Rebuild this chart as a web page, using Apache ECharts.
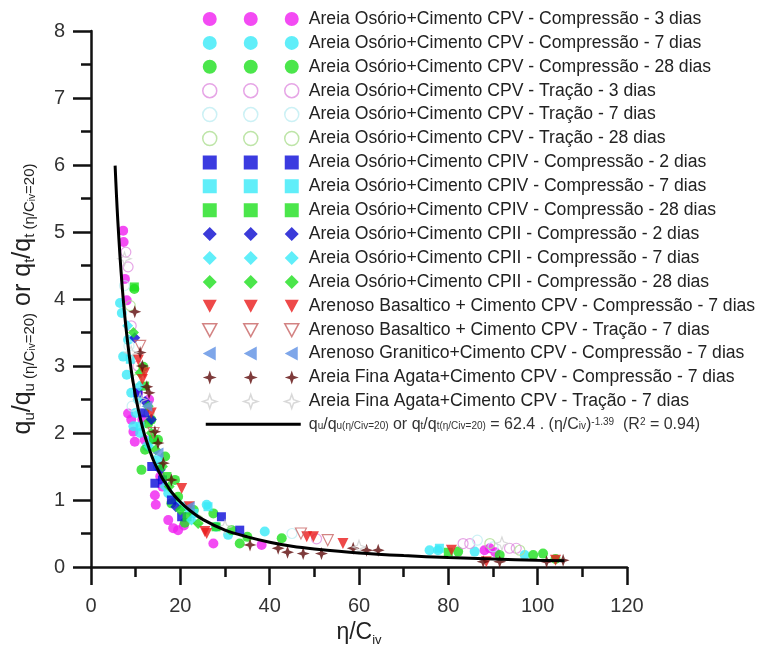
<!DOCTYPE html>
<html>
<head>
<meta charset="utf-8">
<script src="https://cdn.jsdelivr.net/npm/echarts@6/dist/echarts.min.js"></script>
<style>
  html, body { margin: 0; padding: 0; background: #fff; }
  #chart { width: 761px; height: 653px; }
</style>
</head>
<body>
<div id="chart"></div>
<script>
const FONT = 'Arial, "Liberation Sans", sans-serif';

// legend labels
const names = [
  'Areia Osório+Cimento CPV - Compressão - 3 dias',
  'Areia Osório+Cimento CPV - Compressão - 7 dias',
  'Areia Osório+Cimento CPV - Compressão - 28 dias',
  'Areia Osório+Cimento CPV - Tração - 3 dias',
  'Areia Osório+Cimento CPV - Tração - 7 dias',
  'Areia Osório+Cimento CPV - Tração - 28 dias',
  'Areia Osório+Cimento CPIV - Compressão - 2 dias',
  'Areia Osório+Cimento CPIV - Compressão - 7 dias',
  'Areia Osório+Cimento CPIV - Compressão - 28 dias',
  'Areia Osório+Cimento CPII - Compressão - 2 dias',
  'Areia Osório+Cimento CPII - Compressão - 7 dias',
  'Areia Osório+Cimento CPII - Compressão - 28 dias',
  'Arenoso Basaltico + Cimento CPV - Compressão - 7 dias',
  'Arenoso Basaltico + Cimento CPV - Tração - 7 dias',
  'Arenoso Granitico+Cimento CPV - Compressão - 7 dias',
  'Areia Fina Agata+Cimento CPV - Compressão - 7 dias',
  'Areia Fina Agata+Cimento CPV - Tração - 7 dias'
];
const fitName = 'ajuste';

// [η/Civ, normalised strength]
const cpvC3 = [[7.2,5.02],[7.3,4.85],[7.6,4.3],[8.0,3.98],[8.3,2.29],[9.0,2.2],[9.5,2.02],[9.8,1.87],[10.5,2.6],[11.5,2.2],[12.0,1.9],[13.0,2.5],[14.3,1.07],[14.5,0.93],[15.5,1.35],[16.0,1.2],[17.3,0.70],[18.4,0.58],[19.5,0.55],[20.8,0.62],[27.4,0.35],[38.2,0.33],[88.1,0.25],[89.3,0.28],[90.5,0.22]];
const cpvC7 = [[6.5,3.94],[6.9,3.79],[7.2,3.14],[8.0,2.87],[8.3,3.39],[9.0,2.6],[10.0,2.3],[9.5,2.1],[10.5,2.5],[11.0,2.0],[12.5,1.8],[13.5,1.9],[15.0,1.5],[17.3,1.10],[19.0,1.0],[20.5,0.9],[22.0,0.85],[25.9,0.93],[28.0,0.6],[30.7,0.48],[38.9,0.53],[75.8,0.25],[77.7,0.25],[85.9,0.23],[97.1,0.18]];
const cpvC28 = [[9.7,4.15],[11.7,2.99],[12.8,2.14],[12.1,1.75],[11.3,1.45],[13.5,2.2],[15.0,1.9],[16.6,1.65],[18.8,1.30],[18.0,0.95],[19.5,1.05],[21.0,0.66],[23.0,0.85],[27.4,0.80],[31.5,0.55],[33.3,0.35],[35.0,0.45],[42.7,0.43],[82.2,0.23],[91.5,0.18],[99.0,0.18],[101.2,0.20],[104.0,0.12]];
const cpvT3 = [[7.8,4.7],[8.3,4.48],[9.0,3.6],[10.5,3.0],[12.0,2.6],[50.5,0.42],[83.3,0.35],[84.8,0.35],[93.7,0.28],[95.2,0.28]];
const cpvT7 = [[7.5,4.2],[8.5,3.3],[9.2,2.4],[45.0,0.5],[86.5,0.4],[90.0,0.3]];
const cpvT28 = [[8.8,3.9],[10.2,2.8],[13.0,2.3],[24.0,0.7],[89.3,0.35],[96.0,0.25]];
const cpivC2 = [[10.5,2.6],[12.0,2.3],[13.6,1.50],[14.3,1.25],[16.0,1.3],[18.0,1.0],[20.3,0.75],[29.2,0.75],[33.3,0.55]];
const cpivC7 = [[8.8,3.1],[11.0,2.1],[15.0,1.6],[23.0,0.8],[26.2,0.90],[78.0,0.28]];
const cpivC28 = [[9.7,4.18],[12.0,2.7],[14.0,1.9],[17.0,1.35],[21.5,0.75],[28.0,0.6],[80.0,0.22]];
const cpiiC2 = [[9.8,3.42],[12.1,2.47],[13.5,2.2],[15.5,1.45],[19.0,0.9]];
const cpiiC7 = [[8.2,3.6],[10.8,2.7],[13.0,1.8],[16.5,1.2],[22.5,0.7]];
const cpiiC28 = [[9.5,3.5],[11.0,2.9],[12.8,2.4],[13.5,2.0],[14.5,1.75],[16.0,1.5],[17.5,1.2],[20.0,0.85],[24.0,0.65]];
const basC7 = [[10.6,3.09],[11.5,2.8],[12.0,2.9],[13.5,2.3],[20.3,1.17],[22.0,0.9],[25.5,0.53],[25.9,0.50],[48.3,0.45],[49.8,0.45],[56.4,0.35],[80.7,0.25],[88.5,0.08],[104.0,0.1]];
const basT7 = [[11.0,3.3],[14.0,2.0],[47.0,0.5],[53.0,0.4]];
const graC7 = [[12.5,2.4],[15.0,1.7],[22.0,0.9]];
const agaC7 = [[9.8,3.81],[11.0,3.2],[11.5,3.0],[12.5,2.69],[13.0,2.6],[14.3,2.02],[15.0,1.85],[16.2,1.55],[18.0,1.3],[35.6,0.33],[41.9,0.28],[44.0,0.22],[47.5,0.20],[51.6,0.20],[58.7,0.28],[61.7,0.25],[64.3,0.25],[87.8,0.08],[91.5,0.08],[102.0,0.08],[105.7,0.10]];
const agaT7 = [[7.5,4.6],[9.0,3.2],[11.0,2.5],[30.0,0.6],[60.0,0.3],[92.0,0.35]];

// fitted curve
const fitX = [5.4, 5.7, 6, 6.5, 7, 7.5, 8, 8.5, 9, 9.5, 10, 11, 12, 13, 14, 15, 16, 17, 18, 20, 22, 25, 30, 35, 40, 45, 50, 60, 70, 80, 90, 100, 106];
const fitY = [5.99, 5.55, 5.17, 4.63, 4.17, 3.79, 3.47, 3.19, 2.94, 2.73, 2.54, 2.23, 1.97, 1.77, 1.59, 1.45, 1.32, 1.22, 1.12, 0.97, 0.85, 0.71, 0.55, 0.45, 0.37, 0.31, 0.27, 0.21, 0.17, 0.14, 0.12, 0.10, 0.095];

const shapes = {
  circle: dx => `M${dx},7A7,7 0 1,1 ${dx + 14},7A7,7 0 1,1 ${dx},7Z`,
  square: dx => `M${dx},0H${dx + 14}V14H${dx}Z`,
  diamond: dx => `M${dx + 7},0L${dx + 14},7L${dx + 7},14L${dx},7Z`,
  triDown: dx => `M${dx},1H${dx + 14}L${dx + 7},14Z`,
  triLeft: dx => `M${dx},7L${dx + 13},0V14Z`,
  star: dx => `M${dx + 7},0L${dx + 8.8},5.2L${dx + 14},7L${dx + 8.8},8.8L${dx + 7},14L${dx + 5.2},8.8L${dx},7L${dx + 5.2},5.2Z`
};
const plotSymbol = {
  circle: 'circle', square: 'rect', diamond: 'diamond',
  triDown: 'path://' + shapes.triDown(0), triLeft: 'path://' + shapes.triLeft(0), star: 'path://' + shapes.star(0)
};
const plotSize = { circle: 10, square: 9, diamond: 11, triDown: 11, triLeft: 11, star: 13 };
// three samples per legend row; the trailing moves only widen the icon box
const legendIcon = shape => 'path://' + [0, 41, 82].map(shapes[shape]).join('') + 'M0,0M101,0';

// name, data, shape, colour, hollow
const defs = [
  [names[0], cpvC3, 'circle', '#f01ef0', false],
  [names[1], cpvC7, 'circle', '#38eaf8', false],
  [names[2], cpvC28, 'circle', '#1ee01e', false],
  [names[3], cpvT3, 'circle', '#e08ee0', true],
  [names[4], cpvT7, 'circle', '#bfeef2', true],
  [names[5], cpvT28, 'circle', '#aede92', true],
  [names[6], cpivC2, 'square', '#0a0ad8', false],
  [names[7], cpivC7, 'square', '#38eaf8', false],
  [names[8], cpivC28, 'square', '#1ee01e', false],
  [names[9], cpiiC2, 'diamond', '#0a0ad0', false],
  [names[10], cpiiC7, 'diamond', '#38eaf8', false],
  [names[11], cpiiC28, 'diamond', '#1ee01e', false],
  [names[12], basC7, 'triDown', '#ea1c1c', false],
  [names[13], basT7, 'triDown', '#c86464', true],
  [names[14], graC7, 'triLeft', '#5e90e4', false],
  [names[15], agaC7, 'star', '#5e0a0a', false],
  [names[16], agaT7, 'star', '#cfcfcf', true]
];

const series = defs.map(([name, data, shape, color, hollow]) => ({
  type: 'scatter',
  name,
  data,
  symbol: plotSymbol[shape],
  symbolSize: plotSize[shape],
  itemStyle: hollow
    ? { color: 'rgba(255,255,255,0)', borderColor: color, borderWidth: 1.2 }
    : { color },
  silent: true,
  z: 2
}));
series.push({
  type: 'line',
  name: fitName,
  data: fitX.map((x, i) => [x, fitY[i]]),
  smooth: 0.3,
  showSymbol: false,
  lineStyle: { color: '#000', width: 3 },
  itemStyle: { color: '#000' },
  silent: true,
  z: 5
});

const legendData = defs.map(([name, , shape, color, hollow]) => ({
  name,
  icon: legendIcon(shape),
  itemStyle: hollow
    ? { color: '#fff', borderColor: color, borderWidth: 1.5 }
    : { color, borderWidth: 0 }
}));
legendData.push({ name: fitName, icon: 'path://M3,0H98V3H3ZM0,1M101,1', itemStyle: { color: '#000', borderWidth: 0 } });

const fitLabel = '{f|q}{fs|u}{f|/q}{fs|u(η/Civ=20)}{f| or q}{fs|t}{f|/q}{fs|t(η/Civ=20)}{f| = 62.4 . (η/C}{fs|iv}{f|)}{fp|-1.39}{f|  (R}{fp|2}{f| = 0.94)}';

const chart = echarts.init(document.getElementById('chart'));
chart.setOption({
  animation: false,
  backgroundColor: '#fff',
  grid: { left: 91, right: 134, top: 31, bottom: 86 },
  legend: {
    orient: 'vertical',
    left: 202,
    top: 10,
    padding: 0,
    itemWidth: 101,
    itemHeight: 14,
    itemGap: 5.9,
    selectedMode: false,
    textStyle: {
      fontFamily: FONT, fontSize: 17.6, color: '#222',
      rich: {
        f: { fontFamily: FONT, fontSize: 16, color: '#333', lineHeight: 14 },
        fs: { fontFamily: FONT, fontSize: 10, color: '#333', lineHeight: 4, verticalAlign: 'bottom' },
        fp: { fontFamily: FONT, fontSize: 10, color: '#333', lineHeight: 4, verticalAlign: 'top' }
      }
    },
    formatter: n => (n === fitName ? fitLabel : n),
    data: legendData
  },
  xAxis: {
    type: 'value',
    min: 0, max: 120, interval: 20,
    name: '{m|η/C}{s|iv}',
    nameLocation: 'middle',
    nameGap: 52,
    nameTextStyle: {
      rich: {
        m: { fontFamily: FONT, fontSize: 23, color: '#222', lineHeight: 28 },
        s: { fontFamily: FONT, fontSize: 13, color: '#222', lineHeight: 14, verticalAlign: 'bottom' }
      }
    },
    axisLine: { show: true, lineStyle: { color: '#111', width: 2.5 } },
    axisTick: { show: true, inside: false, length: 18, lineStyle: { width: 2.5, color: '#111' } },
    minorTick: { show: true, splitNumber: 2, length: 10, lineStyle: { width: 2.5, color: '#111' } },
    splitLine: { show: false },
    axisLabel: { fontFamily: FONT, fontSize: 20, color: '#333', margin: 29 }
  },
  yAxis: {
    type: 'value',
    min: 0, max: 8, interval: 1,
    name: '{m|q}{s|u}{m|/q}{s|u (η/C}{t|iv}{s|=20)}{m| or q}{s|t}{m|/q}{s|t (η/C}{t|iv}{s|=20)}',
    nameLocation: 'middle',
    nameGap: 54,
    nameTextStyle: {
      rich: {
        m: { fontFamily: FONT, fontSize: 25, color: '#222', lineHeight: 28 },
        s: { fontFamily: FONT, fontSize: 15, color: '#222', lineHeight: 14, verticalAlign: 'bottom' },
        t: { fontFamily: FONT, fontSize: 10, color: '#222', lineHeight: 10, verticalAlign: 'bottom' }
      }
    },
    axisLine: { show: true, lineStyle: { color: '#111', width: 2.5 } },
    axisTick: { show: true, inside: false, length: 18, lineStyle: { width: 2.5, color: '#111' } },
    minorTick: { show: true, splitNumber: 2, length: 10, lineStyle: { width: 2.5, color: '#111' } },
    splitLine: { show: false },
    axisLabel: { fontFamily: FONT, fontSize: 20, color: '#333', margin: 26 }
  },
  series
});
</script>
</body>
</html>
